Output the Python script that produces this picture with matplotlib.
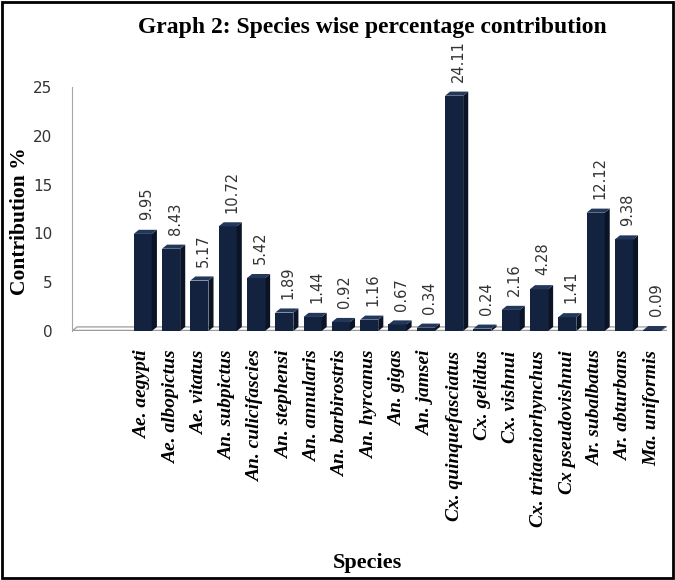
import matplotlib.pyplot as plt
from matplotlib.patches import Polygon, Rectangle

# species (x categories) and their contribution %
species = ['Ae. aegypti', 'Ae. albopictus', 'Ae. vitatus', 'An. subpictus',
           'An. culicifascies', 'An. stephensi', 'An. annularis', 'An. barbirostris',
           'An. hyrcanus', 'An. gigas', 'An. jamsei', 'Cx. quinquefasciatus',
           'Cx. gelidus', 'Cx. vishnui', 'Cx. tritaeniorhynchus', 'Cx pseudovishnui',
           'Ar. subalbatus', 'Ar. abturbans', 'Ma. uniformis']
contribution = [9.95, 8.43, 5.17, 10.72, 5.42, 1.89, 1.44, 0.92, 1.16, 0.67, 0.34,
                24.11, 0.24, 2.16, 4.28, 1.41, 12.12, 9.38, 0.09]
yticks = [0, 5, 10, 15, 20, 25]

front = '#13233f'
side = '#0a1426'
top = '#22375a'
serif = 'Liberation Serif'

fig = plt.figure(figsize=(6.75, 5.8), dpi=100)
ax = fig.add_axes([0.1067, 0.4293, 0.8813, 0.4207])

x = list(range(len(species)))
w = 0.64
dx, dy = 0.18, 0.42  # fake 3d depth, data units

# floor of the 3d plot
x0, x1 = -2.5, len(species) - 0.5
ax.add_patch(Polygon([(x0, 0), (x1, 0), (x1 + dx, dy), (x0 + dx, dy)],
                     closed=True, facecolor='white', edgecolor='#a6a6a6', lw=1, zorder=1))
ax.plot([x0, x1], [0, 0], color='#9a9a9a', lw=2.5, zorder=2, solid_capstyle='butt')

ax.bar(x, contribution, width=w, color=front, zorder=4)
for xi, v in zip(x, contribution):
    r = xi + w / 2
    l = xi - w / 2
    ax.add_patch(Polygon([(r, 0), (r + dx, dy), (r + dx, v + dy), (r, v)],
                         closed=True, facecolor=side, edgecolor='none', zorder=4))
    ax.add_patch(Polygon([(l, v), (r, v), (r + dx, v + dy), (l + dx, v + dy)],
                         closed=True, facecolor=top, edgecolor='none', zorder=4))
    ax.annotate(f'{v:.2f}', (xi + dx / 2, v + dy), xytext=(1, 7), textcoords='offset points',
                rotation=90, ha='center', va='bottom', fontsize=10.5, color='#333333',
                family='DejaVu Sans')

ax.set_xlim(x0, x1 + 0.02)
ax.set_ylim(0, 25)
ax.set_yticks(yticks)
ax.set_xticks(x)
ax.set_xticklabels(species, rotation=90, fontsize=14, family=serif,
                   fontweight='bold', fontstyle='italic', va='top')
ax.tick_params(axis='x', length=0, pad=14)
ax.tick_params(axis='y', length=0, pad=14, labelsize=11, labelcolor='#333333')

for s in ['top', 'right', 'bottom']:
    ax.spines[s].set_visible(False)
ax.spines['left'].set_color('#a6a6a6')

fig.text(0.029, 0.619, 'Contribution %', rotation=90, ha='center', va='center',
         family=serif, fontweight='bold', fontsize=15.5)
fig.text(0.551, 0.952, 'Graph 2: Species wise percentage contribution', ha='center',
         va='center', family=serif, fontweight='bold', fontsize=17)
fig.text(0.545, 0.029, 'Species', ha='center', va='center', family=serif,
         fontweight='bold', fontsize=16)

# border round the whole picture
fig.patches.append(Rectangle((0.003, 0.003), 0.994, 0.994, transform=fig.transFigure,
                             fill=False, edgecolor='black', lw=2))

fig.savefig('out.png', dpi=100)
